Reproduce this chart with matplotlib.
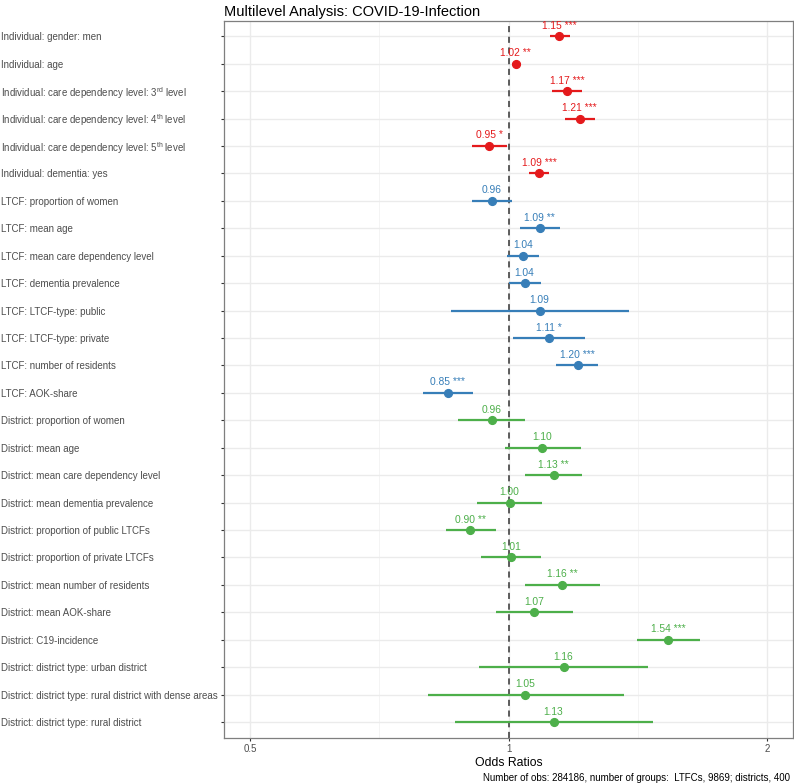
import matplotlib.pyplot as plt
import matplotlib.ticker as mticker
import numpy as np

plt.rcParams['font.family'] = ['Liberation Sans', 'DejaVu Sans']
plt.rcParams['mathtext.fontset'] = 'custom'
plt.rcParams['mathtext.rm'] = 'Liberation Sans'

# terms, top to bottom
terms = [
    "Individual: gender: men",
    "Individual: age",
    r"Individual: care dependency level: 3$^{\mathrm{rd}}$ level",
    r"Individual: care dependency level: 4$^{\mathrm{th}}$ level",
    r"Individual: care dependency level: 5$^{\mathrm{th}}$ level",
    "Individual: dementia: yes",
    "LTCF: proportion of women",
    "LTCF: mean age",
    "LTCF: mean care dependency level",
    "LTCF: dementia prevalence",
    "LTCF: LTCF-type: public",
    "LTCF: LTCF-type: private",
    "LTCF: number of residents",
    "LTCF: AOK-share",
    "District: proportion of women",
    "District: mean age",
    "District: mean care dependency level",
    "District: mean dementia prevalence",
    "District: proportion of public LTCFs",
    "District: proportion of private LTCFs",
    "District: mean number of residents",
    "District: mean AOK-share",
    "District: C19-incidence",
    "District: district type: urban district",
    "District: district type: rural district with dense areas",
    "District: district type: rural district",
]
odds = [1.146, 1.019, 1.169, 1.21, 0.949, 1.086,
        0.956, 1.087, 1.039, 1.044, 1.087, 1.114, 1.203, 0.850,
        0.956, 1.095, 1.128, 1.003, 0.903, 1.007, 1.155, 1.071, 1.535, 1.159, 1.046, 1.128]
ci_low = [1.116, 1.008, 1.123, 1.162, 0.906, 1.057,
          0.907, 1.030, 0.995, 1.000, 0.858, 1.012, 1.136, 0.795,
          0.873, 0.990, 1.046, 0.919, 0.845, 0.930, 1.046, 0.968, 1.409, 0.925, 0.806, 0.866]
ci_high = [1.180, 1.033, 1.217, 1.262, 0.995, 1.115,
           1.008, 1.148, 1.086, 1.092, 1.379, 1.228, 1.271, 0.910,
           1.046, 1.213, 1.217, 1.095, 0.968, 1.090, 1.278, 1.188, 1.668, 1.453, 1.362, 1.473]
labels = ["1.15 ***", "1.02 **", "1.17 ***", "1.21 ***", "0.95 *", "1.09 ***",
          "0.96", "1.09 **", "1.04", "1.04", "1.09", "1.11 *", "1.20 ***", "0.85 ***",
          "0.96", "1.10", "1.13 **", "1.00", "0.90 **", "1.01", "1.16 **", "1.07", "1.54 ***",
          "1.16", "1.05", "1.13"]
groups = ["Individual"] * 6 + ["LTCF"] * 8 + ["District"] * 12
group_colors = {"Individual": "#E41A1C", "LTCF": "#377EB8", "District": "#4DAF4A"}

fig = plt.figure(figsize=(7.94, 7.84), dpi=100)
ax = fig.add_axes([0.282, 0.0587, 0.717, 0.9143])

n = len(terms)
ypos = np.arange(n)
for i in range(n):
    c = group_colors[groups[i]]
    ax.plot([ci_low[i], ci_high[i]], [ypos[i], ypos[i]], color=c, lw=1.6,
            solid_capstyle='butt', zorder=3)
    ax.plot(odds[i], ypos[i], 'o', color=c, ms=5.6, zorder=4)
    ax.text(odds[i], ypos[i] - 0.2, labels[i], color=c, fontsize=7.4,
            ha='center', va='bottom', zorder=5)

ax.axvline(1, color='#333333', ls=(0, (4, 3)), lw=1.1, zorder=2)

ax.set_xscale('log')
ax.set_xlim(0.4664, 2.144)
ax.set_ylim(n - 1 + 0.58, -0.55)
ax.xaxis.set_major_locator(mticker.FixedLocator([0.5, 1, 2]))
ax.xaxis.set_major_formatter(mticker.FixedFormatter(["0.5", "1", "2"]))
ax.xaxis.set_minor_locator(mticker.FixedLocator([2 ** -0.5, 2 ** 0.5]))
ax.xaxis.set_minor_formatter(mticker.NullFormatter())
ax.set_yticks(ypos)
ax.set_yticklabels(terms)

ax.grid(True, which='major', color='#EBEBEB', lw=1.0, zorder=0)
ax.grid(True, which='minor', axis='x', color='#F2F2F2', lw=0.6, zorder=0)
ax.set_axisbelow(True)

for s in ax.spines.values():
    s.set_color('#7F7F7F')
    s.set_linewidth(0.9)

ax.tick_params(axis='both', which='major', length=2.5, color='#333333',
               labelcolor='#4D4D4D', labelsize=7.05)
ax.tick_params(axis='x', which='major', pad=2)
ax.tick_params(axis='x', which='minor', length=0)
for lab in ax.get_yticklabels():
    lab.set_horizontalalignment('left')
# label pad in points: put label left edge near the figure's left border
ax.yaxis.set_tick_params(pad=(224 - 1) * 0.72 - 2.5)

ax.set_xlabel("Odds Ratios", fontsize=8.8, color='black', labelpad=2)
ax.set_title("Multilevel Analysis: COVID-19-Infection", fontsize=10.5,
             loc='left', pad=4)
fig.text(0.995, 0.001,
         "Number of obs: 284186, number of groups:  LTFCs, 9869; districts, 400",
         ha='right', va='bottom', fontsize=7.0, color='black')

fig.savefig('out.png', dpi=100)
